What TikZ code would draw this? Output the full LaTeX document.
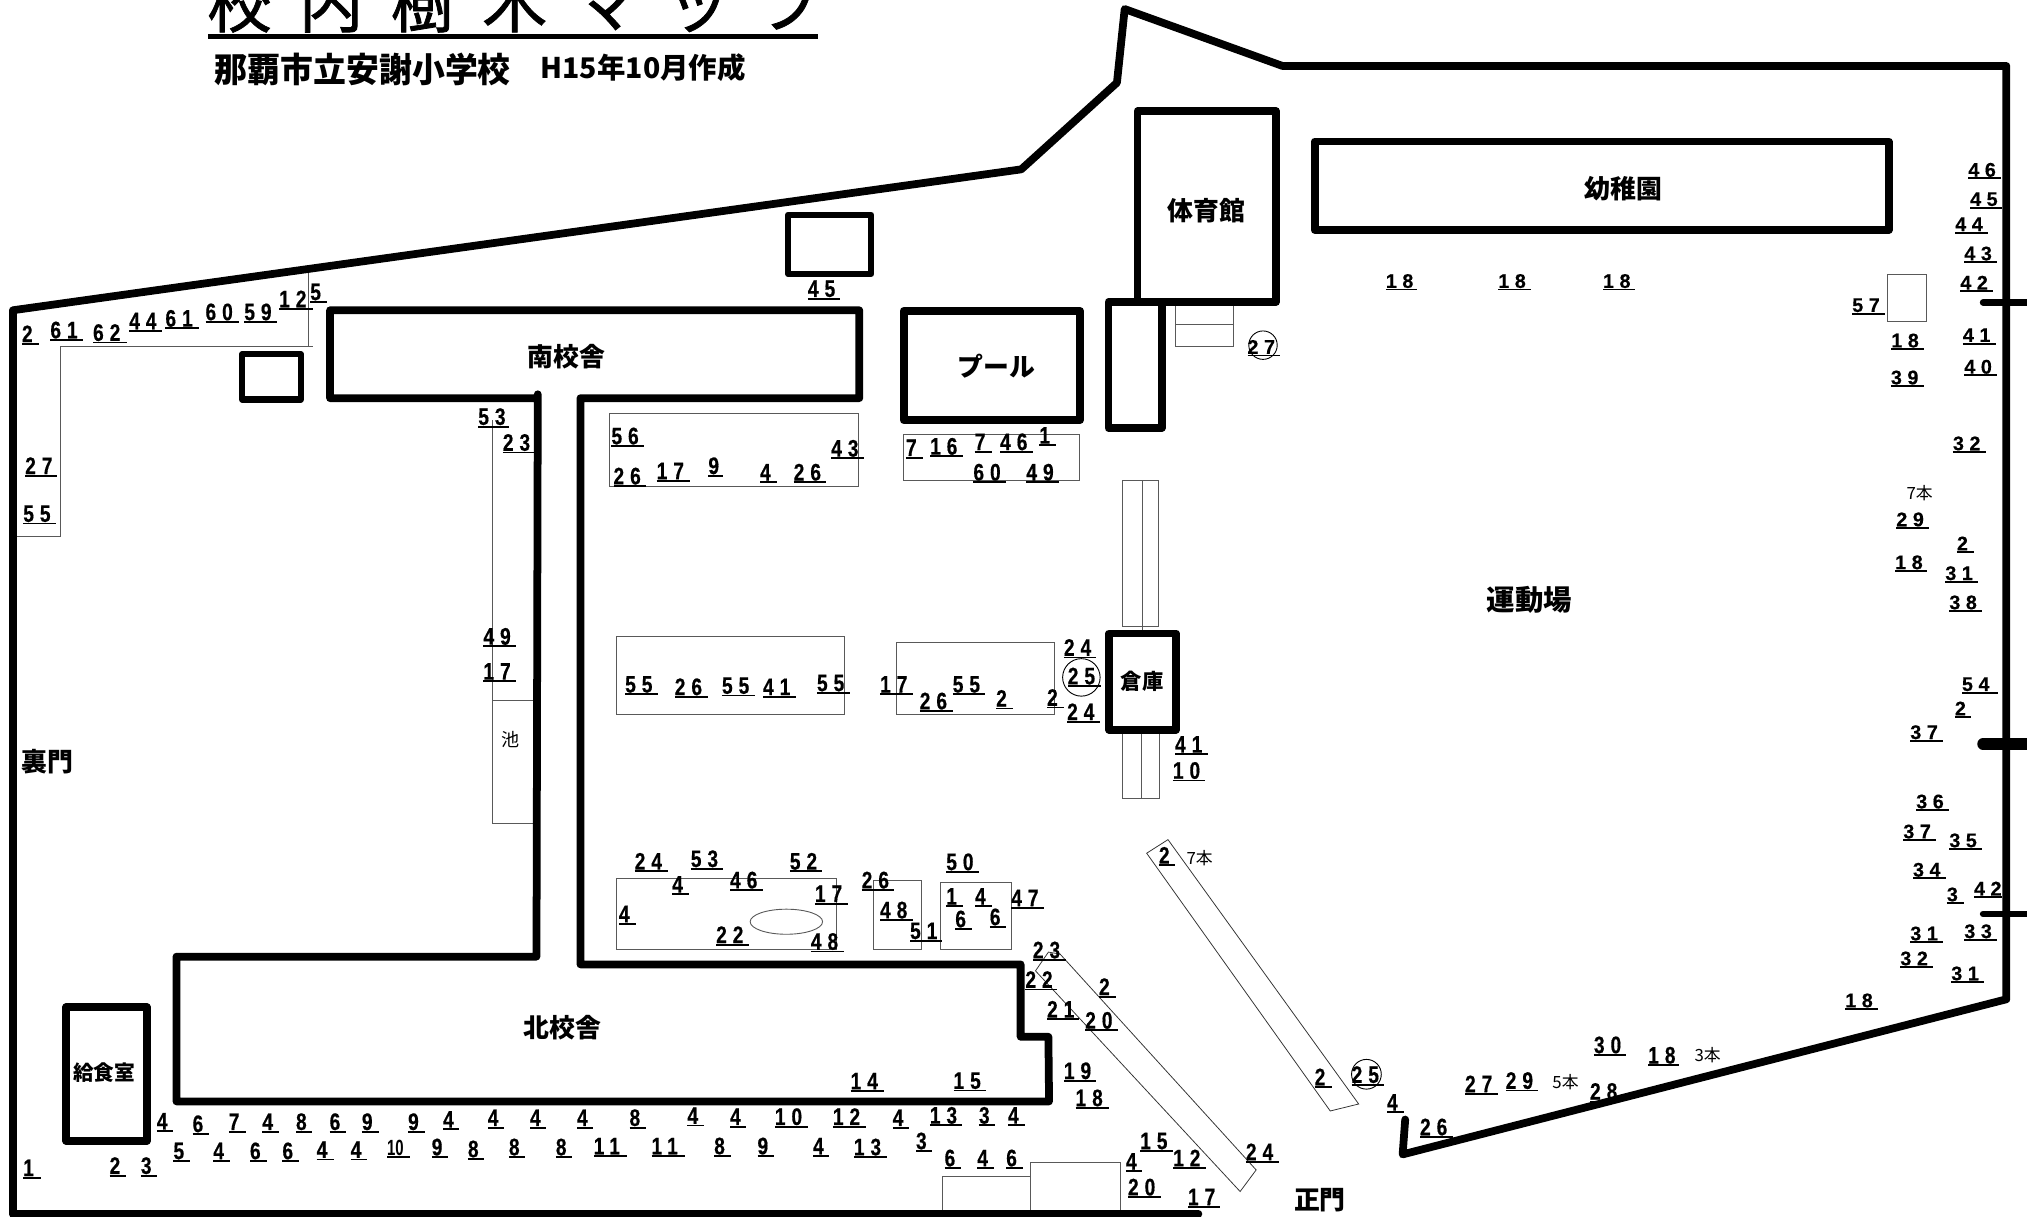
\documentclass[tikz,border=0pt]{standalone}
\usepackage{fontspec}
\newfontfamily\cjkf{Noto Sans CJK JP}
\newfontfamily\cjkn[FakeStretch=0.96]{Noto Sans CJK JP}
\newfontfamily\cjktitle[LetterSpace=42,FakeBold=1.2]{Noto Sans CJK JP}
\newfontfamily\fontA[FakeStretch=0.8,LetterSpace=25,FakeBold=0.5]{Liberation Sans Bold}
\newfontfamily\fontB[LetterSpace=28,FakeBold=0.4]{Liberation Sans Bold}
\newfontfamily\fontC[FakeStretch=0.68]{Liberation Sans Bold}
\newcommand\numA{\fontA\fontsize{18.5}{18.5}\selectfont}
\newcommand\numB{\fontB\fontsize{15.3}{15.3}\selectfont}
\newcommand\numC{\fontC\fontsize{17}{17}\selectfont}
\newcounter{lbn}
\newcommand\lab[5][\numA]{\stepcounter{lbn}%
  \node[numlab,font=#1] (lb\arabic{lbn}) at (#2,#4-1.3) {#5};
  \draw[ul] (#2,#4) -- (#3,#4);}
\newcommand\labr[4]{\lab[\numB]{#1}{#2}{#3}{#4}}
\tikzset{
  numlab/.style={anchor=base west,inner sep=0pt,outer sep=0pt},
  ul/.style={line width=1.4pt,black},
  wall/.style={line width=6pt,line join=round,line cap=round,black},
  bld/.style={line width=6pt,line join=round,black},
  thin line/.style={line width=0.7pt,black!65},
  name label/.style={inner sep=0pt,font=\cjkf\bfseries},
}
\begin{document}
\begin{tikzpicture}[x=1pt,y=-1pt]
\useasboundingbox (0,0) rectangle (1568,941.4);
\clip (0,0) rectangle (1568,941.4);
% thin planting beds
\draw[thin line] (238.5,211) -- (238.5,268) (242,268) -- (47,268) -- (47,415) -- (13,415);
\draw[thin line] (381,325) -- (381,637) -- (414,637) (381,542) -- (414,542);
\draw[thin line] (471.5,319.6) rectangle (664.2,376.5);
\draw[thin line] (698.7,336.2) rectangle (834.8,371.6);
\draw[thin line] (868,371.6) rectangle (896.3,484.9) (883.8,371.6) -- (883.8,490);
\draw[thin line] (868.3,565) rectangle (896.6,617.5) (882.8,565) -- (882.8,617.5);
\draw[thin line] (477,492.3) rectangle (653,552.6);
\draw[thin line] (693.2,497.3) rectangle (815.4,552.6);
\draw[thin line] (476.7,679.4) rectangle (647.3,734.3);
\draw[thin line] (676,681) rectangle (712.9,734.3);
\draw[thin line] (727.4,682.7) rectangle (782.3,734.3);
\draw[thin line] (608.3,713) ellipse [x radius=28,y radius=9.7];
\draw[thin line] (909,233) rectangle (954,268) (909,251) -- (954,251);
\draw[thin line] (1460,212) rectangle (1490,248.8);
\draw[thin line] (729.3,939) -- (729.3,910.4) -- (797.4,910.4);
\draw[thin line] (797.4,939) -- (797.4,899.6) -- (867,899.6) -- (867,939);
\draw[line width=0.6pt,black!80] (887,660) -- (903.5,649.5) -- (1051,854) -- (1029,859.4) -- cycle;
\draw[line width=0.6pt,black!80] (801,751) -- (811,736.5) -- (820,738) -- (971.7,905) -- (959.3,921.7) -- cycle;
\draw[line width=0.7pt,black] (836.5,524) circle [radius=14.5];
\draw[line width=0.7pt,black] (1057,831) circle [radius=11.5];
\draw[line width=0.7pt,black] (977,267) circle [radius=11];
% boundary
\draw[wall] (10,939) -- (10,240) -- (790,131) -- (864,64) -- (870,7) -- (992,51) -- (1552,51) -- (1552,773) -- (1085,893) -- (1087,866);
\draw[wall] (10,939) -- (927,939);
\draw[line width=5pt,line cap=round] (1534,234) -- (1572,234);
\draw[line width=9pt,line cap=round] (1534,575.5) -- (1572,575.5);
\draw[line width=5pt,line cap=round] (1534,707) -- (1572,707);
% buildings
\draw[wall] (416,305) -- (415,740) -- (136.5,740) -- (136.5,852) -- (811.5,852) -- (811,802) -- (789.5,802) -- (789.5,746) -- (449,746) -- (449,308) -- (664.7,308) -- (664.7,240) -- (255.3,240) -- (255.3,308) -- (416,308);
\draw[bld] (51.3,779) rectangle (113.5,882.6);
\draw[bld,line width=5pt] (187.4,274) rectangle (232.7,309);
\draw[bld,line width=4.5pt] (609.6,166) rectangle (674,212);
\draw[bld] (699,240.5) rectangle (835.5,325);
\draw[bld] (857.5,233.5) rectangle (898.7,331);
\draw[bld] (880,86) rectangle (987,233.5);
\draw[bld] (1017,109.5) rectangle (1461,178);
\draw[bld] (858,490) rectangle (909.7,564.5);
% title
\node[anchor=base west,inner sep=0pt,font=\cjktitle\fontsize{50}{50}\selectfont] (title) at (160,21) {校内樹木マップ};
\draw[line width=4pt] (161,28) -- (633,28);
\node[anchor=base west,name label,font=\cjkn\bfseries\fontsize{26.5}{26.5}\selectfont] (school) at (166,64) {那覇市立安謝小学校};
\node[anchor=base west,name label,font=\cjkf\bfseries\fontsize{22}{22}\selectfont] (date) at (418,61) {H15年10月作成};
% building names
\node[name label,font=\cjkf\bfseries\fontsize{20}{20}\selectfont] (n1) at (438,276) {南校舎};
\node[name label,font=\cjkf\bfseries\fontsize{20}{20}\selectfont] (n2) at (435,795) {北校舎};
\node[name label,font=\cjkf\bfseries\fontsize{20}{20}\selectfont] (n3) at (933,163) {体育館};
\node[name label,font=\cjkf\bfseries\fontsize{20}{20}\selectfont] (n4) at (1256,146) {幼稚園};
\node[name label,font=\cjkf\bfseries\fontsize{20}{20}\selectfont] (n5) at (771,283) {プール};
\node[name label,font=\cjkf\bfseries\fontsize{22}{22}\selectfont] (n6) at (1183,464) {運動場};
\node[name label,font=\cjkf\bfseries\fontsize{16.5}{16.5}\selectfont] (n7) at (883.5,527) {倉庫};
\node[name label,font=\cjkf\bfseries\fontsize{16}{16}\selectfont] (n8) at (80.5,830) {給食室};
\node[name label,font=\cjkf\bfseries\fontsize{20}{20}\selectfont] (n9) at (37,589) {裏門};
\node[name label,font=\cjkf\bfseries\fontsize{20}{20}\selectfont] (n10) at (1021,928) {正門};
\node[inner sep=0pt,font=\cjkf\fontsize{14}{14}\selectfont] (n11) at (395,572) {池};
\node[inner sep=0pt,font=\cjkf\fontsize{13}{13}\selectfont] (n12) at (928,664) {7本};
\node[inner sep=0pt,font=\cjkf\fontsize{13}{13}\selectfont] (n13) at (1485,381.6) {7本};
\node[inner sep=0pt,font=\cjkf\fontsize{13}{13}\selectfont] (n14) at (1211,837) {5本};
\node[inner sep=0pt,font=\cjkf\fontsize{13}{13}\selectfont] (n15) at (1321,816) {3本};
% labels: top-left
\lab{17}{30}{266}{2}
\lab{39}{64}{263}{61}
\lab{72}{98}{265}{62}
\lab{100}{125}{256}{44}
\lab{128}{154}{254}{61}
\lab{159}{185}{249}{60}
\lab{189}{214}{249}{59}
\lab{216}{242}{239}{12}
\lab{240}{253}{233.5}{5}
\lab{625}{650}{231}{45}
\lab{370}{394}{330}{53}
\lab{389}{414}{350}{23}
\lab{19.5}{44}{368}{27}
\lab{18}{43.5}{405}{55}
\lab{473}{498}{345}{56}
\lab{474.6}{500}{376}{26}
\lab{508}{534}{372}{17}
\lab{548}{559}{368}{9}
\lab{588}{601}{373}{4}
\lab{614}{639}{373}{26}
\lab{643}{668}{354.5}{43}
% middle
\lab{700.8}{713.6}{354}{7}
\lab{719.5}{744.7}{353}{16}
\lab{754}{767.4}{349.5}{7}
\lab{773.7}{799}{349.5}{46}
\lab{804}{817}{344.5}{1}
\lab{753}{778.5}{373}{60}
\lab{794}{819}{373}{49}
\lab{483.6}{509}{537}{55}
\lab{522}{547.5}{539}{26}
\lab{558.5}{584}{538}{55}
\lab{590.3}{615.5}{539}{41}
\lab{632}{657.3}{536}{55}
\lab{680.8}{706}{537}{17}
\lab{711.5}{737}{550}{26}
\lab{737}{762}{537}{55}
\lab{770.6}{783.3}{548}{2}
\lab{810}{822.7}{547.3}{2}
\lab{823}{848}{508.6}{24}
\lab{826}{851.4}{530.7}{25}
\lab{825.5}{850.7}{558.4}{24}
\lab{909}{934.2}{583.5}{41}
\lab{907.3}{932.5}{603.7}{10}
\lab{374}{399}{500}{49}
\lab{374}{399}{527}{17}
\lab{491}{516.4}{674}{24}
\lab{534.4}{559.6}{672}{53}
\lab{611}{636.2}{674}{52}
\lab{520}{532.6}{691.8}{4}
\lab{564.8}{590}{688.5}{46}
\lab{630.4}{655.6}{699}{17}
\lab{478.8}{491.6}{714.7}{4}
\lab{554}{579}{730.8}{22}
\lab{627.3}{652.5}{736}{48}
\lab{666.6}{691.8}{688.5}{26}
\lab{680.8}{706}{711.7}{48}
\lab{704}{729}{727.7}{51}
\lab{732}{757}{674.4}{50}
\lab{732}{745}{701}{1}
\lab{754.3}{767.4}{701}{4}
\lab{739}{752.2}{718.6}{6}
\lab{765.7}{778.5}{717}{6}
\lab{782.3}{807.8}{702.3}{47}
\lab{896.5}{909.2}{669.4}{2}
% entrance
\lab{799}{824.3}{742.6}{23}
\lab{793.2}{818}{765.5}{22}
\lab{850.2}{863}{771}{2}
\lab{810}{835}{788.5}{21}
\lab{839.5}{864.7}{797}{20}
\lab{823}{848}{836}{19}
\lab{832}{857.5}{857}{18}
\lab{737.6}{762.8}{843.6}{15}
\lab{719.3}{744.5}{870.5}{13}
\lab{757.3}{770}{870.5}{3}
\lab{779.8}{792.5}{870.5}{4}
\lab{708.6}{721}{890.3}{3}
\lab{730.7}{743.5}{903.5}{6}
\lab{756}{768.7}{903.5}{4}
\lab{778.4}{791}{903.5}{6}
\lab{882}{907}{890.3}{15}
\lab{871}{883.7}{906}{4}
\lab{907.5}{932.7}{903.5}{12}
\lab{872.6}{897.9}{926}{20}
\lab{919}{944}{933.6}{17}
\lab{963.8}{989}{898.8}{24}
\lab{1017}{1030}{840.8}{2}
\lab{1045.6}{1070.9}{839}{25}
\lab{1073}{1085.7}{860.4}{4}
\lab{1098.5}{1123.7}{879.5}{26}
\lab{1133.3}{1158.6}{846.2}{27}
\lab{1164.8}{1190}{843.6}{29}
\lab{1230}{1254}{852}{28}
\lab{1275}{1299}{824}{18}
\lab{1233}{1258}{816}{30}
% tree rows
\lab{658}{683.7}{844}{14}
\lab{121.4}{134}{875}{4}
\lab{149}{161.8}{877}{6}
\lab{177}{190}{875.4}{7}
\lab{203}{216}{875.4}{4}
\lab{229}{241.7}{875.4}{8}
\lab{255}{268}{875.4}{6}
\lab{280}{293}{875.4}{9}
\lab{315.7}{328.5}{875.4}{9}
\lab{342.8}{355}{873.6}{4}
\lab{377.4}{389.7}{872.3}{4}
\lab{410}{422.3}{872.3}{4}
\lab{446.4}{458.8}{872.3}{4}
\lab{487}{499.7}{872.3}{8}
\lab{531.8}{544.6}{870.7}{4}
\lab{564.8}{577}{871.5}{4}
\lab{599.4}{625}{871.5}{10}
\lab{644.3}{670}{871.5}{12}
\lab{690.6}{703.4}{872.3}{4}
\lab{134.2}{147}{898}{5}
\lab{165}{177.6}{898}{4}
\lab{193.4}{206.2}{898}{6}
\lab{218.5}{231}{898}{6}
\lab{245}{258}{897}{4}
\lab{271.3}{283.7}{897}{4}
\lab[\numC]{299.4}{317.2}{895}{10}
\lab{334}{346.3}{895}{9}
\lab{362}{374.4}{896.5}{8}
\lab{393.7}{406}{895}{8}
\lab{430}{442.5}{895}{8}
\lab{459.3}{485}{894.2}{11}
\lab{504}{529.8}{894.2}{11}
\lab{552.5}{565.3}{894.2}{8}
\lab{586}{599}{894.2}{9}
\lab{629}{641.3}{894.2}{4}
\lab{660.5}{686}{895}{13}
\lab{18}{32}{911}{1}
\lab{84.8}{97.7}{909.4}{2}
\lab{109}{121.8}{909.4}{3}
% right side
\labr{1072}{1096}{224}{18}
\labr{1159}{1184}{224}{18}
\labr{1240}{1265}{224}{18}
\labr{965}{990}{275}{27}
\labr{1522.6}{1547.6}{138}{46}
\labr{1524}{1549}{160.6}{45}
\labr{1512.5}{1537.5}{180}{44}
\labr{1519.5}{1544.5}{202.7}{43}
\labr{1516.4}{1541.4}{225.3}{42}
\labr{1432.8}{1457.8}{242.6}{57}
\labr{1463}{1488}{270}{18}
\labr{1462.7}{1488}{298.6}{39}
\labr{1518.4}{1543.7}{265.8}{41}
\labr{1519.5}{1544.5}{290.3}{40}
\labr{1510.7}{1536}{349.6}{32}
\labr{1466.9}{1491.9}{408.4}{29}
\labr{1466}{1491}{441.6}{18}
\labr{1513.8}{1526.7}{427}{2}
\labr{1504.8}{1529.8}{450}{31}
\labr{1507.9}{1532.9}{472.6}{38}
\labr{1517.7}{1545.2}{535.8}{54}
\labr{1512.2}{1525}{554.7}{2}
\labr{1477.7}{1502.7}{573}{37}
\labr{1482.3}{1507.3}{626.6}{36}
\labr{1472.3}{1497.3}{649.8}{37}
\labr{1507.9}{1532.9}{656.7}{35}
\labr{1479.8}{1505}{679.4}{34}
\labr{1506}{1519}{698.5}{3}
\labr{1527}{1548.3}{694}{42}
\labr{1477.7}{1502.7}{728.7}{31}
\labr{1519.5}{1544.5}{727}{33}
\labr{1470}{1495}{748}{32}
\labr{1509.4}{1534.4}{759.6}{31}
\labr{1427.4}{1452.4}{780.5}{18}
\end{tikzpicture}
\end{document}
